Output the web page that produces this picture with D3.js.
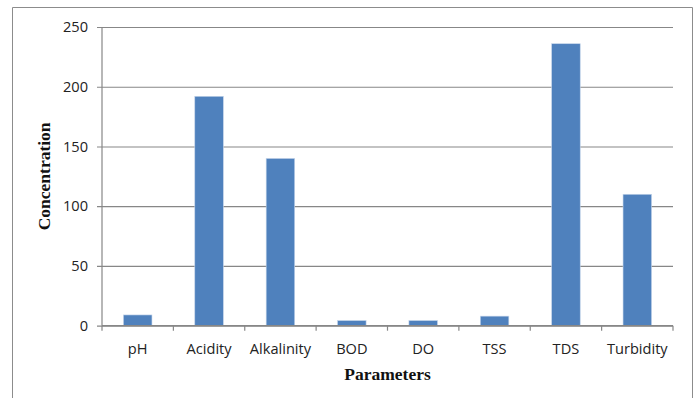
<!DOCTYPE html>
<html>
<head>
<meta charset="utf-8">
<script src="https://cdn.jsdelivr.net/npm/d3@7"></script>
<style>
  html, body { margin: 0; padding: 0; background: #fff; }
  svg { display: block; }
</style>
</head>
<body>
<script>
// Water quality parameters and their measured concentrations
const categories = ["pH", "Acidity", "Alkalinity", "BOD", "DO", "TSS", "TDS", "Turbidity"];
const values = [9, 192, 140, 4.3, 4.3, 8, 236, 110];
const yTicks = [0, 50, 100, 150, 200, 250];

const W = 697, H = 398;
const plot = { left: 102, right: 673, top: 27, bottom: 325.7 };

const svg = d3.select("body").append("svg")
  .attr("width", W).attr("height", H);

svg.append("rect").attr("width", W).attr("height", H).attr("fill", "#fff");

// Chart frame
svg.append("path")
  .attr("d", `M12.5,${H} V7.5 H692.5 V${H}`)
  .attr("fill", "none")
  .attr("stroke", "#8c8c8c")
  .attr("stroke-width", 1);

const x = d3.scaleBand()
  .domain(categories)
  .range([plot.left, plot.right])
  .paddingInner(0.6)
  .paddingOuter(0.3);

const y = d3.scaleLinear()
  .domain([0, 250])
  .range([plot.bottom, plot.top]);

const gridColor = "#878787";
const labelFont = "'Open Sans', 'Liberation Sans', sans-serif";
const labelSize = 14.6;

// Horizontal gridlines with short outward ticks
const yAxis = d3.axisLeft(y)
  .tickValues(yTicks)
  .tickSize(plot.right - plot.left + 5)
  .tickPadding(9)
  .tickFormat(d3.format("d"));

const gy = svg.append("g")
  .attr("transform", `translate(${plot.right},0)`)
  .call(yAxis);
gy.select(".domain").remove();
gy.selectAll(".tick line").attr("stroke", gridColor).attr("stroke-width", 1.2);
gy.selectAll(".tick text")
  .attr("font-family", labelFont)
  .attr("font-size", labelSize)
  .attr("fill", "#222");

// Vertical axis line
svg.append("line")
  .attr("x1", plot.left).attr("x2", plot.left)
  .attr("y1", plot.top).attr("y2", plot.bottom)
  .attr("stroke", gridColor).attr("stroke-width", 1.2);

// Bars
svg.append("g").selectAll("rect")
  .data(categories.map((c, i) => ({ c, v: values[i] })))
  .join("rect")
  .attr("x", d => x(d.c))
  .attr("width", x.bandwidth())
  .attr("y", d => y(d.v))
  .attr("height", d => y(0) - y(d.v))
  .attr("fill", "#4f81bd")
  .attr("stroke", "#c5d5ea")
  .attr("stroke-width", 0.6);

// Category axis: ticks at band boundaries
const step = x.step();
const boundaries = d3.range(categories.length + 1).map(i => plot.left + i * step);
svg.append("line")
  .attr("x1", plot.left).attr("x2", plot.right)
  .attr("y1", plot.bottom).attr("y2", plot.bottom)
  .attr("stroke", gridColor).attr("stroke-width", 1.2);
svg.append("g").selectAll("line")
  .data(boundaries)
  .join("line")
  .attr("x1", d => d).attr("x2", d => d)
  .attr("y1", plot.bottom).attr("y2", plot.bottom + 5)
  .attr("stroke", gridColor).attr("stroke-width", 1.2);

svg.append("g").selectAll("text")
  .data(categories)
  .join("text")
  .attr("x", d => x(d) + x.bandwidth() / 2)
  .attr("y", 353.5)
  .attr("text-anchor", "middle")
  .attr("font-family", labelFont)
  .attr("font-size", labelSize)
  .attr("fill", "#222")
  .text(d => d);

// Axis titles
svg.append("text")
  .attr("x", (plot.left + plot.right) / 2)
  .attr("y", 380)
  .attr("text-anchor", "middle")
  .attr("font-family", "'Liberation Serif', serif")
  .attr("font-weight", "bold")
  .attr("font-size", 17.5)
  .attr("fill", "#111")
  .text("Parameters");

svg.append("text")
  .attr("transform", `translate(49.5,${(plot.top + plot.bottom) / 2}) rotate(-90)`)
  .attr("text-anchor", "middle")
  .attr("font-family", "'Liberation Serif', serif")
  .attr("font-weight", "bold")
  .attr("font-size", 17.5)
  .attr("fill", "#111")
  .text("Concentration");
</script>
</body>
</html>
